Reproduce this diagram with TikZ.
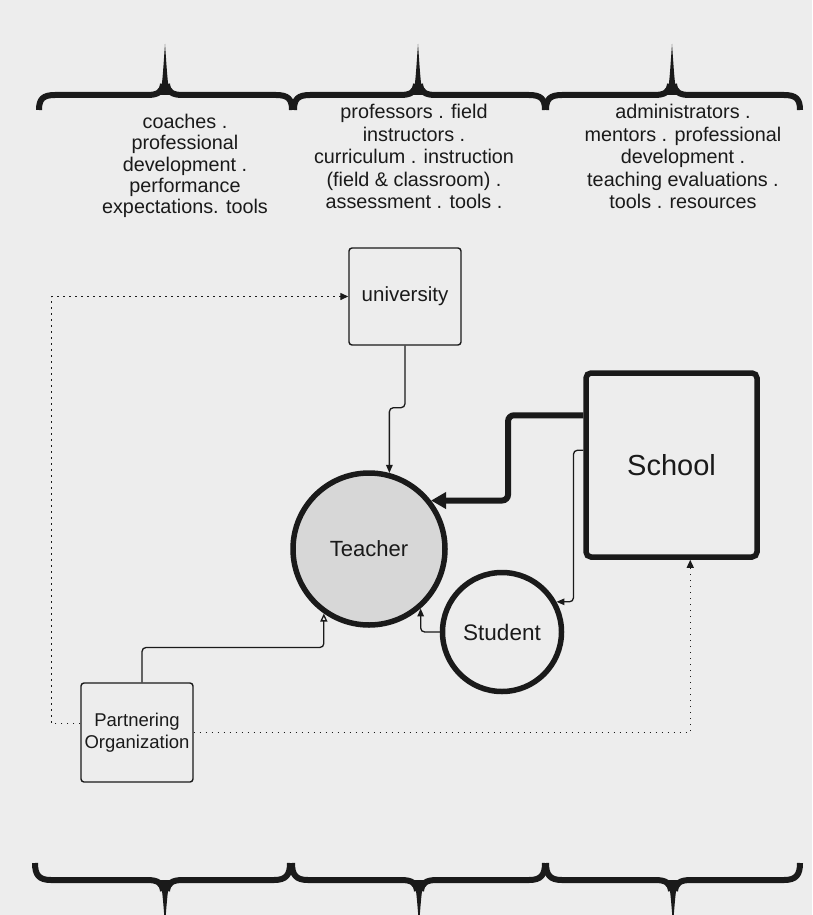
\documentclass[tikz,border=0pt]{standalone}
\usepackage{fontspec}
\setmainfont{Liberation Sans}
\usetikzlibrary{arrows.meta,calc}
\definecolor{bg}{HTML}{EDEDED}
\definecolor{tfill}{HTML}{D7D7D7}
\definecolor{ink}{HTML}{1A1A1A}

\newcommand\topbrace[3]{%
  \draw[bracestroke] (#1,110) .. controls (#1,99) and (#1+4,95) .. (#1+16,95) -- (#2-18,95) .. controls (#2-7,95) and (#2-3,92) .. (#2-2,84);
  \draw[bracestroke] (#2+2,84) .. controls (#2+3,92) and (#2+7,95) .. (#2+18,95) -- (#3-16,95) .. controls (#3-4,95) and (#3,99) .. (#3,110);
  \fill[ink] (#2-5,95) .. controls (#2-2.6,86) and (#2-1.6,66) .. (#2,44) .. controls (#2+1.6,66) and (#2+2.6,86) .. (#2+5,95) -- cycle;
}
\newcommand\botbrace[3]{%
  \draw[bracestroke] (#1,863) .. controls (#1,875) and (#1+4,880) .. (#1+16,880) -- (#2-18,880) .. controls (#2-7,880) and (#2-3,883) .. (#2-2,891);
  \draw[bracestroke] (#2+2,891) .. controls (#2+3,883) and (#2+7,880) .. (#2+18,880) -- (#3-16,880) .. controls (#3-4,880) and (#3,875) .. (#3,863);
  \fill[ink] (#2-5,880) .. controls (#2-2.6,889) and (#2-1.6,905) .. (#2,925) .. controls (#2+1.6,905) and (#2+2.6,889) .. (#2+5,880) -- cycle;
}

\tikzset{
  bracestroke/.style={draw=ink, line width=6pt, line cap=butt, line join=round},
  coltext/.style={anchor=north, inner sep=0pt, align=center, text=ink},
  box/.style={draw=ink, line width=1.4pt, rounded corners=3pt, inner sep=0pt, text=ink, align=center},
  bigbox/.style={draw=ink, line width=5.5pt, rounded corners=5pt, inner sep=0pt, text=ink},
  ring/.style={circle, draw=ink, line width=5.5pt, inner sep=0pt, text=ink},
  thinarrow/.style={draw=ink, line width=1.3pt, rounded corners=4pt, -{Triangle[length=8pt,width=6.5pt]}},
  openarrow/.style={draw=ink, line width=1.3pt, rounded corners=4pt, -{Triangle[open,length=8pt,width=7pt,fill=bg]}},
  heavyarrow/.style={draw=ink, line width=6pt, rounded corners=6pt, -{Triangle[length=15pt,width=16pt]}},
  dotline/.style={draw=ink, line width=1.3pt, dash pattern=on 1.4pt off 4.6pt, -{Triangle[length=8pt,width=7pt]}}
}

\begin{document}
\begin{tikzpicture}[x=1pt, y=-1pt]
\fill[bg] (0,0) rectangle (812,915);
\useasboundingbox (0,0) rectangle (812,915);
\clip (0,0) rectangle (812,915);

% braces
\topbrace{39}{165}{292}
\topbrace{294}{418}{545}
\topbrace{546}{672}{800}
\botbrace{35}{165}{290}
\botbrace{292}{419}{545}
\botbrace{546}{673}{800}

% column texts
\node[coltext, font=\fontsize{19.8}{21.3}\selectfont] (c1) at (185,114)
  {coaches .\\professional\\development .\\performance\\expectations. tools};
\node[coltext, font=\fontsize{19.8}{22.5}\selectfont] (c2) at (414,104)
  {professors . field\\instructors .\\curriculum . instruction\\(field \& classroom) .\\assessment . tools .};
\node[coltext, font=\fontsize{19.8}{22.5}\selectfont] (c3) at (683,104)
  {administrators .\\mentors . professional\\development .\\teaching evaluations .\\tools . resources};

% nodes
\node[box, minimum width=112pt, minimum height=97pt, font=\fontsize{20.5}{24}\selectfont] (univ) at (405,296.5) {university};
\node[bigbox, minimum width=171pt, minimum height=184pt, font=\fontsize{29}{34}\selectfont] (school) at (671.5,465) {School};
\node[ring, fill=tfill, minimum size=152pt, font=\fontsize{22}{26}\selectfont] (teacher) at (369,549) {Teacher};
\node[ring, minimum size=119pt, font=\fontsize{22.5}{26}\selectfont] (student) at (502,632) {Student};
\node[box, minimum width=112pt, minimum height=99pt, font=\fontsize{18.5}{22}\selectfont] (partner) at (137,732.5) {Partnering\\Organization};

% connectors
\draw[thinarrow] (univ.south) -- ++(0,62) -| (teacher.75);
\draw[heavyarrow] ($(school.north west)+(0,45)$) -| ($(teacher.38)+(77,0)$) -- (teacher.38);
\draw[thinarrow] ($(school.north west)+(0,80)$) -| ($(student.29)+(17,0)$) -- (student.29);
\draw[thinarrow] (student.west) -| (teacher.-49.5);
\draw[openarrow] ($(partner.north)+(5,0)$) |- ($(teacher.235)+(0,34)$) -- (teacher.235);
\draw[dotline] ($(partner.west)+(0,-9)$) -| ($(univ.west)+(-297,0)$) -- (univ.west);
\draw[dotline] (partner.east) -| ($(school.south west)+(107,0)$);
\end{tikzpicture}
\end{document}
